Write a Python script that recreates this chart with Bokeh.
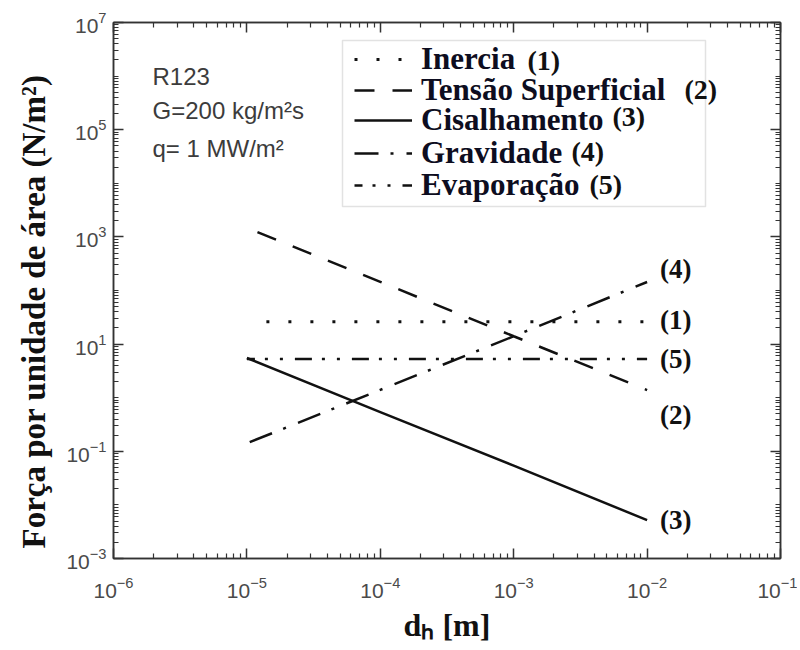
import math
from bokeh.plotting import figure
from bokeh.models import (LogAxis, FixedTicker, Label, Legend, LegendItem,
                          BoxAnnotation, Range1d, Title)
from bokeh.embed import file_html
from bokeh.resources import INLINE

# ---------------- data ----------------
x_major = [1e-6, 1e-5, 1e-4, 1e-3, 1e-2, 1e-1]
y_major = [1e-3, 1e-1, 1e1, 1e3, 1e5, 1e7]

series_names = ["Inercia", "Tensão Superficial", "Cisalhamento", "Gravidade", "Evaporação"]
series_tags = ["(1)", "(2)", "(3)", "(4)", "(5)"]

dh_inercia = [1.4e-5, 1e-4, 1e-3, 1e-2]
f_inercia = [26, 26, 26, 26]

dh_tensao = [1.2e-5, 1e-4, 1e-3, 1e-2]
f_tensao = [1230, 145, 14, 1.39]

dh_cisalhamento = [1e-5, 1e-4, 1e-3, 1e-2]
f_cisalhamento = [5.5, 0.54, 0.054, 0.0052]

dh_gravidade = [1.05e-5, 1e-4, 1e-3, 1e-2]
f_gravidade = [0.148, 1.4, 14, 144]

dh_evaporacao = [1e-5, 1e-4, 1e-3, 1e-2]
f_evaporacao = [5.25, 5.25, 5.25, 5.25]

info_lines = ["R123", "G=200 kg/m²s", "q= 1 MW/m²"]

# ---------------- figure ----------------
x_minor = [m * 10.0 ** k for k in range(-6, -1) for m in range(2, 10)]
y_minor = [m * 10.0 ** k for k in range(-3, 7) for m in range(1, 10)
           if not (m == 1 and 10.0 ** k in y_major)]

p = figure(x_axis_type="log", y_axis_type="log",
           x_range=Range1d(1e-6, 1e-1), y_range=Range1d(1e-3, 1e7),
           frame_width=667, frame_height=536,
           min_border_left=113, min_border_right=17,
           min_border_top=22, min_border_bottom=88,
           output_backend="svg", toolbar_location=None,
           background_fill_color="white", border_fill_color="white")
p.grid.visible = False
p.outline_line_color = "#333333"
p.outline_line_width = 1.5

xt = FixedTicker(ticks=x_major, minor_ticks=x_minor)
yt = FixedTicker(ticks=y_major, minor_ticks=y_minor)


def style_axis(ax, show_labels):
    ax.axis_line_color = "#333333"
    ax.axis_line_width = 1.5
    ax.major_tick_line_color = "#333333"
    ax.minor_tick_line_color = "#333333"
    ax.major_tick_line_width = 1.5
    ax.minor_tick_line_width = 1.2
    ax.major_tick_in = 10
    ax.major_tick_out = 0
    ax.minor_tick_in = 5
    ax.minor_tick_out = 0
    if show_labels:
        ax.major_label_text_font = "Liberation Sans"
        ax.major_label_text_font_size = "21px"
        ax.major_label_text_color = "#4a4a4a"
    else:
        ax.major_label_text_font_size = "2px"
        ax.major_label_text_alpha = 0
        ax.major_label_standoff = 0


xa = p.xaxis[0]
xa.ticker = xt
style_axis(xa, True)
xa.major_label_standoff = 18
xa.axis_label = "dₕ [m]"
xa.axis_label_standoff = 6
xa.axis_label_text_font = "Liberation Serif"
xa.axis_label_text_font_style = "bold"
xa.axis_label_text_font_size = "32px"
xa.axis_label_text_color = "#111111"

ya = p.yaxis[0]
ya.ticker = yt
style_axis(ya, True)
ya.major_label_standoff = 7

top_ax = LogAxis(ticker=xt)
style_axis(top_ax, False)
p.add_layout(top_ax, "above")
right_ax = LogAxis(ticker=yt)
style_axis(right_ax, False)
p.add_layout(right_ax, "right")

# y title as a left-side Title
p.add_layout(Title(text="Força por unidade de área (N/m²)", align="left", offset=10,
                   standoff=24, text_font="Liberation Serif", text_font_style="bold",
                   text_font_size="33px", text_color="#111111"), "left")

# ---------------- lines ----------------
lc = "#111111"
r1 = p.line(dh_inercia, f_inercia, line_color=lc, line_width=3, line_dash="3 19")
r2 = p.line(dh_tensao, f_tensao, line_color=lc, line_width=2.5, line_dash="20 18")
r3 = p.line(dh_cisalhamento, f_cisalhamento, line_color=lc, line_width=2.5)
r4 = p.line(dh_gravidade, f_gravidade, line_color=lc, line_width=2.5, line_dash="24 12 3 13")
r5 = p.line(dh_evaporacao, f_evaporacao, line_color=lc, line_width=2.5,
            line_dash="17 10 3 12 3 12", line_dash_offset=9)
renderers = [r1, r2, r3, r4, r5]

# ---------------- legend ----------------
box = BoxAnnotation(left=229, right=592, top=518, bottom=352,
                    left_units="screen", right_units="screen",
                    top_units="screen", bottom_units="screen",
                    fill_color=None, line_color="#a0a0a0", line_width=1.5)
p.add_layout(box)

legend_rows_y = [481, 450, 420, 387, 355]
for n, r, ly in zip(series_names, renderers, legend_rows_y):
    lg = Legend(items=[LegendItem(label=n, renderers=[r])],
                location=(241, ly), padding=0, spacing=0, margin=0,
                glyph_width=58, glyph_height=20, label_height=30, label_standoff=9,
                border_line_color=None, background_fill_alpha=0,
                label_text_font="Liberation Serif", label_text_font_style="bold",
                label_text_font_size="31px", label_text_color="#0d0d20")
    p.add_layout(lg)

tag_pos = [(414, 498), (571, 469), (499, 442), (458, 407), (476, 374)]
for t, (tx, ty) in zip(series_tags, tag_pos):
    p.add_layout(Label(x=tx, y=ty, x_units="screen", y_units="screen", text=t,
                       text_baseline="middle", text_font="Liberation Serif",
                       text_font_style="bold", text_font_size="28px", text_color="#111111"))

# end-of-line tags
ends = [(dh_inercia, f_inercia, 2), (dh_tensao, f_tensao, -25), (dh_cisalhamento, f_cisalhamento, 0),
        (dh_gravidade, f_gravidade, 13), (dh_evaporacao, f_evaporacao, 0)]
for t, (xs, ys, off) in zip(series_tags, ends):
    p.add_layout(Label(x=xs[-1], y=ys[-1], x_offset=13, y_offset=off, text=t,
                       text_baseline="middle", text_font="Liberation Serif",
                       text_font_style="bold", text_font_size="27px", text_color="#111111"))

# info text
for line, yy in zip(info_lines, [482, 448, 410]):
    p.add_layout(Label(x=39, y=yy, x_units="screen", y_units="screen", text=line,
                       text_baseline="alphabetic", text_font="Liberation Sans",
                       text_font_size="24px", text_color="#3c3c3c"))

open("out.html", "w").write(file_html(p, INLINE))
